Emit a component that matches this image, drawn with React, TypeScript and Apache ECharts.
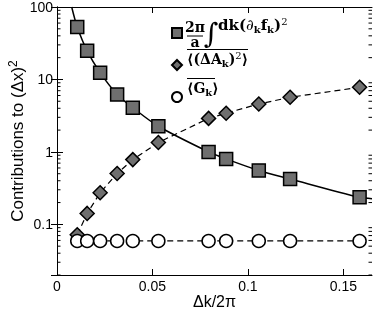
import React, { useEffect, useRef } from 'react';
import * as echarts from 'echarts';

// Δk/2π positions of the computed points
const kValues = [0.0106, 0.0158, 0.0226, 0.0315, 0.0397, 0.0531, 0.0794, 0.0886, 0.1057, 0.1221, 0.1585];
// (2π/a) ∫ dk (∂k fk)^2  (squares)
const fkTerm = [53, 24.8, 12.4, 6.2, 4.08, 2.26, 1.0, 0.8, 0.555, 0.423, 0.236];
// <(ΔA_k)^2> (diamonds)
const deltaA2 = [0.072, 0.1415, 0.273, 0.503, 0.783, 1.35, 2.9, 3.42, 4.59, 5.67, 7.79];
// <G_k> (circles)
const gk = [0.059, 0.059, 0.059, 0.059, 0.059, 0.059, 0.059, 0.059, 0.059, 0.059, 0.059];
// solid fit curve
const fitK = [0.0077, 0.0106, 0.0158, 0.0226, 0.0315, 0.0397, 0.0531, 0.0794, 0.0886, 0.1057, 0.1221, 0.1585, 0.165];
const fitVal = [100, 53, 24.8, 12.4, 6.2, 4.08, 2.26, 1.0, 0.8, 0.555, 0.423, 0.236, 0.226];

const xTickLabels = [0, 0.05, 0.1, 0.15];
const xTickMarks = [0.05, 0.1, 0.15];
const yMinorDecades = [0.01, 0.1, 1, 10];
const yMinorSteps = [2, 3, 4, 5, 6, 7, 8, 9];
const X_MIN = 0;
const X_MAX = 0.165;

const sans = '"Liberation Sans", Arial, Helvetica, sans-serif';
const serif = '"DejaVu Serif", "Liberation Serif", serif';

export default function App() {
  const ref = useRef<HTMLDivElement>(null);
  useEffect(() => {
    if (!ref.current) return;
    const chart = echarts.init(ref.current, null, { renderer: 'svg' });
    const yMinor: number[] = [];
    yMinorDecades.forEach((d) => yMinorSteps.forEach((s) => {
      const v = +(d * s).toPrecision(6);
      if (v >= 0.02 && v < 100) yMinor.push(v);
    }));
    const pairs = (xs: number[], ys: number[]) => xs.map((x, i) => [x, ys[i]]);
    const axisLine = { show: true, lineStyle: { color: '#000', width: 1 } };
    const yBase = { type: 'log' as const, min: 0.02, max: 100, logBase: 10, splitLine: { show: false } };
    const xBase = { type: 'value' as const, min: X_MIN, max: X_MAX, splitLine: { show: false } };
    const boldSerif = { fontFamily: serif, fontWeight: 'bold' as const, fontSize: 14, fill: '#000' };
    const rich = {
      m: { fontFamily: serif, fontWeight: 'bold' as const, fontSize: 14, lineHeight: 18, verticalAlign: 'middle' as const },
      M: { fontFamily: serif, fontWeight: 'bold' as const, fontSize: 15, lineHeight: 18, verticalAlign: 'middle' as const },
      s: { fontFamily: serif, fontWeight: 'bold' as const, fontSize: 10, lineHeight: 11, verticalAlign: 'bottom' as const },
      p: { fontFamily: serif, fontWeight: 'normal' as const, fontSize: 10, lineHeight: 11, verticalAlign: 'top' as const },
      i: { fontFamily: serif, fontWeight: 'normal' as const, fontStyle: 'italic' as const, fontSize: 15, lineHeight: 18, verticalAlign: 'middle' as const },
    };
    chart.setOption({
      animation: false,
      grid: { left: 57, top: 7, right: 2, bottom: 34, outerBoundsMode: 'none' },
      xAxis: [
        {
          ...xBase, position: 'bottom', axisLine,
          axisTick: { show: true, inside: true, length: 6, customValues: xTickMarks, lineStyle: { color: '#000' } },
          axisLabel: { customValues: xTickLabels, color: '#000', fontFamily: sans, fontSize: 14, margin: 4 },
          name: 'Δk/2π', nameLocation: 'middle', nameGap: 18, nameMoveOverlap: false,
          nameTextStyle: { color: '#000', fontFamily: sans, fontSize: 16, lineHeight: 16 },
        },
        {
          ...xBase, position: 'top', axisLine,
          axisTick: { show: true, inside: true, length: 6, customValues: xTickMarks, lineStyle: { color: '#000' } },
          axisLabel: { show: false },
        },
      ],
      yAxis: [
        {
          ...yBase, position: 'left', axisLine,
          axisTick: { show: true, inside: true, length: 6, lineStyle: { color: '#000' } },
          axisLabel: { color: '#000', fontFamily: sans, fontSize: 14, margin: 4,
            formatter: (v: number) => {
              const l = Math.log10(v);
              return Math.abs(l - Math.round(l)) < 1e-6 ? String(v) : '';
            } },
          name: 'Contributions to (Δx){p|2}', nameLocation: 'middle', nameGap: 30, nameMoveOverlap: false,
          nameTextStyle: { color: '#000', fontFamily: sans, fontSize: 17,
            rich: { p: { fontFamily: sans, fontSize: 12, lineHeight: 20, verticalAlign: 'top', color: '#000' } } },
        },
        {
          ...yBase, position: 'right', axisLine,
          axisTick: { show: true, inside: true, length: 6, lineStyle: { color: '#000' } },
          axisLabel: { show: false },
        },
      ],
      legend: {
        orient: 'vertical', left: 166, top: 22, itemWidth: 10, itemHeight: 10, itemGap: 20,
        formatter: () => '', textStyle: { fontSize: 8, lineHeight: 8 },
        data: [
          { name: 'fk', icon: 'rect' },
          { name: 'dA', icon: 'diamond' },
          { name: 'Gk', icon: 'circle' },
        ],
      },
      series: [
        {
          type: 'custom', name: 'minorTicks', silent: true, z: 1,
          data: yMinor.map((v) => [X_MIN, v]),
          encode: { x: 0, y: 1 },
          renderItem: (_params: any, api: any) => {
            const v = api.value(1);
            const l = api.coord([X_MIN, v]);
            const r = api.coord([X_MAX, v]);
            const st = { stroke: '#000', lineWidth: 1 };
            return {
              type: 'group',
              children: [
                { type: 'line', shape: { x1: l[0], y1: l[1], x2: l[0] + 3.5, y2: l[1] }, style: st },
                { type: 'line', shape: { x1: r[0] - 3.5, y1: r[1], x2: r[0], y2: r[1] }, style: st },
              ],
            };
          },
        },
        {
          type: 'line', name: 'fit', data: pairs(fitK, fitVal), smooth: 0.3, symbol: 'none',
          lineStyle: { color: '#000', width: 1.5 }, z: 2,
        },
        {
          type: 'line', name: 'dA', data: pairs(kValues, deltaA2), symbol: 'diamond', symbolSize: 14,
          lineStyle: { color: '#000', width: 1.2, type: [6, 4] },
          itemStyle: { color: '#6f6f6f', borderColor: '#000', borderWidth: 1.5 }, z: 3,
        },
        {
          type: 'line', name: 'Gk', data: pairs(kValues, gk), symbol: 'circle', symbolSize: 13,
          lineStyle: { color: '#000', width: 1.2, type: [6, 4] },
          itemStyle: { color: '#fff', borderColor: '#000', borderWidth: 1.5 }, z: 4,
        },
        {
          type: 'scatter', name: 'fk', data: pairs(kValues, fkTerm), symbol: 'rect', symbolSize: 13,
          itemStyle: { color: '#6f6f6f', borderColor: '#000', borderWidth: 1.5, opacity: 1 }, z: 5,
        },
      ],
      graphic: [
        { type: 'text', x: 195, y: 27, style: { ...boldSerif, text: '2π', align: 'center', verticalAlign: 'middle' } },
        { type: 'line', shape: { x1: 187, y1: 36, x2: 203, y2: 36 }, style: { stroke: '#000', lineWidth: 1 } },
        { type: 'text', x: 195, y: 42, style: { ...boldSerif, text: 'a', align: 'center', verticalAlign: 'middle' } },
        { type: 'text', x: 211, y: 33, style: { fontFamily: serif, fontSize: 28, fill: '#000', text: '∫', align: 'center', verticalAlign: 'middle' } },
        { type: 'text', x: 218, y: 25, style: { text: '{M|dk(}{i|∂}{s|k}{M|f}{s|k}{M|)}{p|2}', rich, fill: '#000', verticalAlign: 'middle' } },
        { type: 'line', shape: { x1: 187, y1: 49.5, x2: 248, y2: 49.5 }, style: { stroke: '#000', lineWidth: 1 } },
        { type: 'text', x: 187, y: 59, style: { text: '{m|⟨(ΔA}{s|k}{m|)}{p|2}{m|⟩}', rich, fill: '#000', verticalAlign: 'middle' } },
        { type: 'line', shape: { x1: 187, y1: 78.5, x2: 215, y2: 78.5 }, style: { stroke: '#000', lineWidth: 1 } },
        { type: 'text', x: 187, y: 88, style: { text: '{m|⟨G}{s|k}{m|⟩}', rich, fill: '#000', verticalAlign: 'middle' } },
      ],
    });
    return () => chart.dispose();
  }, []);
  return <div ref={ref} style={{ position: 'fixed', left: 0, top: 0, width: 374, height: 309 }} />;
}
